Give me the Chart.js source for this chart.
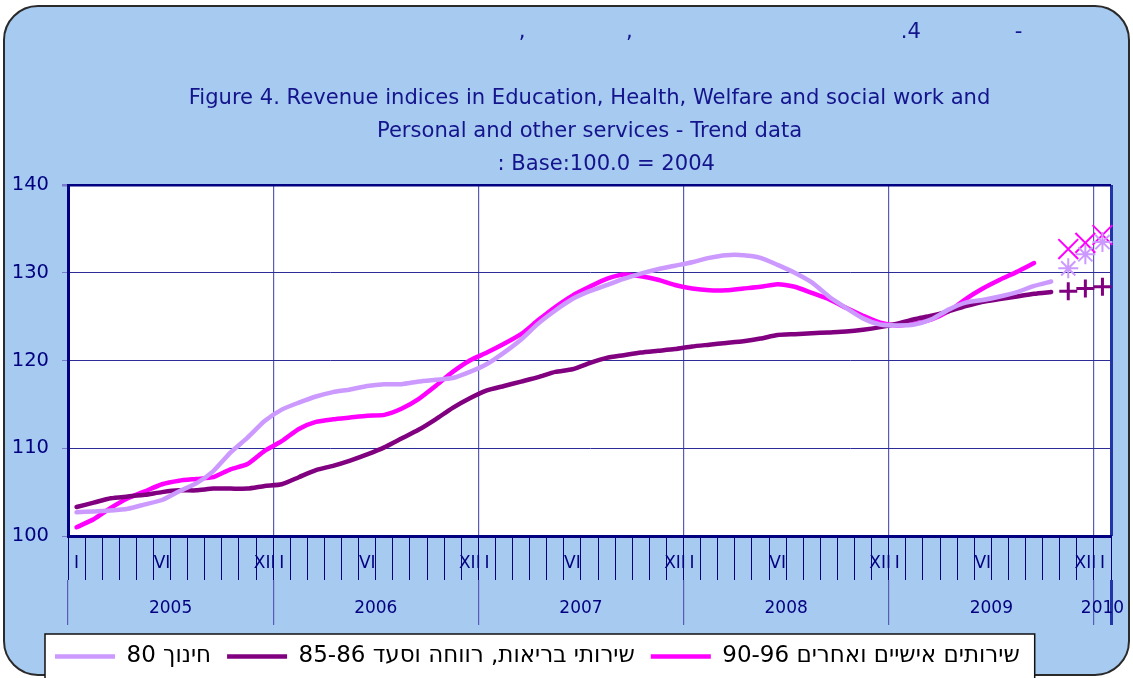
<!DOCTYPE html>
<html>
<head>
<meta charset="utf-8">
<script src="https://cdn.jsdelivr.net/npm/chart.js@4.4.1/dist/chart.umd.min.js"></script>
<style>
  html, body { margin: 0; padding: 0; background: #fff; }
  #wrap { width: 1133px; height: 678px; position: relative; }
</style>
</head>
<body>
<div id="wrap"><canvas id="revenueChart"></canvas></div>
<script>
const ROMAN = ['I', 'II', 'III', 'IV', 'V', 'VI', 'VII', 'VIII', 'IX', 'X', 'XI', 'XII'];
const YEARS = [2005, 2006, 2007, 2008, 2009];
const LAST_MONTH = 'I 2010';
const SHOWN_MONTHS = ['I', 'VI', 'XII'];

// one category per month, Jan 2005 .. Jan 2010
const CATEGORIES = YEARS.flatMap(y => ROMAN.map(m => `${m} ${y}`)).concat([LAST_MONTH]);
const YEAR_LABELS = ['2005', '2006', '2007', '2008', '2009', '2010'];

const TITLE_LINES = [
  ' '.repeat(54) + ',' + ' '.repeat(15) + ',' + ' '.repeat(40) + '.4' + ' '.repeat(14) + '-',
  '',
  'Figure 4. Revenue indices in Education, Health, Welfare and social work and',
  'Personal and other services - Trend data',
  ' '.repeat(5) + ': Base:100.0 = 2004',
];

const LEGEND_LABELS = [
  'חינוך 80',
  'שירותי בריאות, רווחה וסעד 85-86',
  'שירותים אישיים ואחרים 90-96',
];

// trend data, Jan 2005 onwards
const EDUCATION = [
  102.7, 102.8, 102.9, 103.1, 103.6, 104.1, 105.1, 106.0, 107.4, 109.5, 111.2, 113.1,
  114.4, 115.2, 115.9, 116.4, 116.7, 117.1, 117.3, 117.3, 117.6, 117.8, 118.0, 118.7,
  119.6, 120.9, 122.4, 124.2, 125.7, 127.0, 127.9, 128.6, 129.3, 129.9, 130.4, 130.8,
  131.2, 131.7, 132.0, 132.0, 131.7, 130.9, 130.0, 128.9, 127.3, 126.0, 124.8, 124.1,
  124.0, 124.1, 124.7, 125.8, 126.6, 126.9, 127.3, 127.8, 128.5, 129.0,
];
const HEALTH_WELFARE = [
  103.3, 103.8, 104.3, 104.5, 104.7, 105.0, 105.2, 105.2, 105.4, 105.4, 105.4, 105.7,
  105.9, 106.7, 107.5, 108.0, 108.6, 109.3, 110.1, 111.1, 112.1, 113.3, 114.6, 115.7,
  116.6, 117.1, 117.6, 118.1, 118.7, 119.0, 119.7, 120.3, 120.6, 120.9, 121.1, 121.3,
  121.6, 121.8, 122.0, 122.2, 122.5, 122.9, 123.0, 123.1, 123.2, 123.3, 123.5, 123.8,
  124.2, 124.7, 125.1, 125.6, 126.2, 126.7, 127.0, 127.3, 127.6, 127.8,
];
const PERSONAL_OTHER = [
  101.0, 101.9, 103.2, 104.3, 105.1, 105.9, 106.3, 106.5, 106.7, 107.6, 108.2, 109.7,
  110.8, 112.2, 113.0, 113.3, 113.5, 113.7, 113.8, 114.5, 115.6, 117.1, 118.7, 120.0,
  120.9, 121.9, 123.0, 124.6, 126.1, 127.4, 128.4, 129.3, 129.8, 129.6, 129.2, 128.6,
  128.2, 128.0, 128.0, 128.2, 128.4, 128.7, 128.4, 127.7, 127.0, 126.0, 125.1, 124.3,
  124.0, 124.2, 124.7, 125.6, 127.0, 128.2, 129.2, 130.1, 131.1,
];

// marked points at the end of the series
const FORECAST_MONTHS = ['XI 2009', 'XII 2009', 'I 2010'];
const EDUCATION_END = [130.5, 132.1, 133.5];
const HEALTH_WELFARE_END = [127.9, 128.2, 128.4];
const PERSONAL_OTHER_END = [132.7, 133.4, 134.3];

const Y_MIN = 100;
const Y_MAX = 140;
const Y_STEP = 10;

const NAVY = '#000080';
const TITLE_NAVY = '#14148c';
const GRID_H = '#2c2c98';
const GRID_V = '#5a5ab8';
const EDGE_BLUE = '#2234a8';
const PANEL_BLUE = '#a6caf0';
const LILAC = '#cc99ff';
const PLUM = '#800080';
const MAGENTA = '#ff00ff';

const LEGEND_ROW_LEFT = 55;
// right-to-left embedding, so the Hebrew labels read correctly in the legend
const RTL = s => '\u202B' + s + '\u202C';

// year axis ticks: year boundaries plus the middle of each year
const yearStarts = YEAR_LABELS.map((y, i) => i * ROMAN.length);
const yearEnds = yearStarts.slice(1).concat([CATEGORIES.length]);
const yearMids = yearStarts.map((s, i) => (s + yearEnds[i]) / 2);
const boundaryTicks = yearStarts.concat([CATEGORIES.length]);
const yearTicks = boundaryTicks.concat(yearMids).sort((a, b) => a - b);

const lineSet = (label, data, color) => ({
  label: RTL(label),
  data,
  borderColor: color,
  backgroundColor: color,
  borderWidth: 4.5,
  pointRadius: 0,
  tension: 0.2,
  borderCapStyle: 'round',
  borderJoinStyle: 'round',
});

const markerSet = (values, color, pointStyle, radius, width) => ({
  label: '',
  data: values.map((v, i) => ({ x: FORECAST_MONTHS[i], y: v })),
  borderColor: color,
  backgroundColor: color,
  showLine: false,
  pointStyle,
  pointRadius: radius,
  pointBorderWidth: width,
});

const roundedRect = (ctx, x, y, w, h, r) => {
  ctx.beginPath();
  ctx.moveTo(x + r, y);
  ctx.arcTo(x + w, y, x + w, y + h, r);
  ctx.arcTo(x + w, y + h, x, y + h, r);
  ctx.arcTo(x, y + h, x, y, r);
  ctx.arcTo(x, y, x + w, y, r);
  ctx.closePath();
};

const legendRow = legend => {
  const pad = legend.options.labels.padding;
  const start = (legend.left + pad + legend.right - legend.lineWidths[0]) / 2;
  return { start, width: legend.lineWidths[0] - pad };
};

// blue panel, white plot area and the white box round the legend row
const chartFrame = {
  id: 'chartFrame',
  afterLayout(chart) {
    const { legend } = chart;
    const dx = LEGEND_ROW_LEFT - legendRow(legend).start;
    legend.left += dx;
    legend.right += dx;
  },
  beforeDraw(chart) {
    const { ctx, chartArea, legend } = chart;
    ctx.save();
    roundedRect(ctx, 4, 6, chart.width - 8, chart.height - 9, 34);
    ctx.fillStyle = PANEL_BLUE;
    ctx.fill();
    ctx.strokeStyle = '#2a2a2a';
    ctx.lineWidth = 2;
    ctx.stroke();

    ctx.fillStyle = '#fff';
    ctx.fillRect(chartArea.left, chartArea.top, chartArea.right - chartArea.left, chartArea.bottom - chartArea.top);

    const row = legendRow(legend);
    ctx.fillRect(row.start - 10, legend.top + 5, row.width + 25, chart.height);
    ctx.strokeStyle = '#111';
    ctx.lineWidth = 1.5;
    ctx.strokeRect(row.start - 10, legend.top + 5, row.width + 25, chart.height);
    ctx.restore();
  },
};

const yearEdgeColor = c => {
  if (!boundaryTicks.includes(c.tick.value)) return 'transparent';
  return c.tick.value === CATEGORIES.length ? EDGE_BLUE : GRID_V;
};
const yearEdgeWidth = c => (c.tick.value === CATEGORIES.length ? 3 : 1.2);

document.addEventListener('DOMContentLoaded', () => {
  const ctx = document.getElementById('revenueChart').getContext('2d');

  new Chart(ctx, {
    type: 'line',
    data: {
      labels: CATEGORIES,
      datasets: [
        lineSet(LEGEND_LABELS[0], EDUCATION, LILAC),
        lineSet(LEGEND_LABELS[1], HEALTH_WELFARE, PLUM),
        lineSet(LEGEND_LABELS[2], PERSONAL_OTHER, MAGENTA),
        markerSet(EDUCATION_END, LILAC, 'star', 10, 2),
        markerSet(HEALTH_WELFARE_END, PLUM, 'cross', 9, 3),
        markerSet(PERSONAL_OTHER_END, MAGENTA, 'crossRot', 14, 2),
      ],
    },
    options: {
      responsive: true,
      maintainAspectRatio: false,
      animation: false,
      layout: { padding: { left: 0, right: 22, top: 0, bottom: 0 } },
      plugins: {
        tooltip: { enabled: false },
        title: {
          display: true,
          fullSize: false,
          text: TITLE_LINES,
          color: TITLE_NAVY,
          font: { family: '"DejaVu Sans", Verdana, sans-serif', size: 21.1, weight: 'normal', lineHeight: 33 / 21.1 },
          padding: { top: 16.5, bottom: 3.5 },
        },
        legend: {
          position: 'bottom',
          labels: {
            filter: item => item.datasetIndex < 3,
            usePointStyle: true,
            pointStyle: 'line',
            pointStyleWidth: 60,
            padding: 16,
            color: '#000',
            font: { family: '"DejaVu Sans", Verdana, sans-serif', size: 23 },
          },
        },
      },
      scales: {
        x: {
          type: 'category',
          position: 'bottom',
          offset: true,
          grid: {
            offset: true,
            drawOnChartArea: false,
            tickLength: 44,
            tickColor: NAVY,
            tickWidth: 1,
          },
          border: { display: true, color: NAVY, width: 3 },
          ticks: {
            autoSkip: false,
            maxRotation: 0,
            padding: -27,
            color: NAVY,
            font: { family: '"DejaVu Sans", Verdana, sans-serif', size: 17 },
            callback(value) {
              const month = this.getLabelForValue(value).split(' ')[0];
              return SHOWN_MONTHS.includes(month) ? month : '';
            },
          },
          afterFit: scale => { scale.height = 44; },
        },
        x2: {
          type: 'linear',
          position: 'bottom',
          min: 0,
          max: CATEGORIES.length,
          afterBuildTicks: scale => { scale.ticks = yearTicks.map(value => ({ value })); },
          grid: {
            drawOnChartArea: true,
            tickLength: 45,
            color: yearEdgeColor,
            tickColor: yearEdgeColor,
            lineWidth: yearEdgeWidth,
            tickWidth: yearEdgeWidth,
          },
          border: { display: false },
          ticks: {
            autoSkip: false,
            maxRotation: 0,
            padding: -27,
            color: NAVY,
            font: { family: '"DejaVu Sans", Verdana, sans-serif', size: 17 },
            callback: value => {
              const i = yearMids.indexOf(value);
              return i >= 0 ? YEAR_LABELS[i] : '';
            },
          },
          afterFit: scale => { scale.height = 49; },
        },
        y: {
          min: Y_MIN,
          max: Y_MAX,
          ticks: {
            stepSize: Y_STEP,
            padding: 13,
            color: NAVY,
            font: { family: '"DejaVu Sans", Verdana, sans-serif', size: 19.5 },
          },
          grid: {
            color: c => (c.tick.value === Y_MAX ? NAVY : GRID_H),
            lineWidth: c => (c.tick.value === Y_MAX ? 2.5 : 1),
            tickLength: 6,
            tickColor: '#7a7acc',
          },
          border: { display: true, color: NAVY, width: 3 },
          afterFit: scale => { scale.width = 68; },
        },
      },
    },
    plugins: [chartFrame],
  });
});
</script>
</body>
</html>
